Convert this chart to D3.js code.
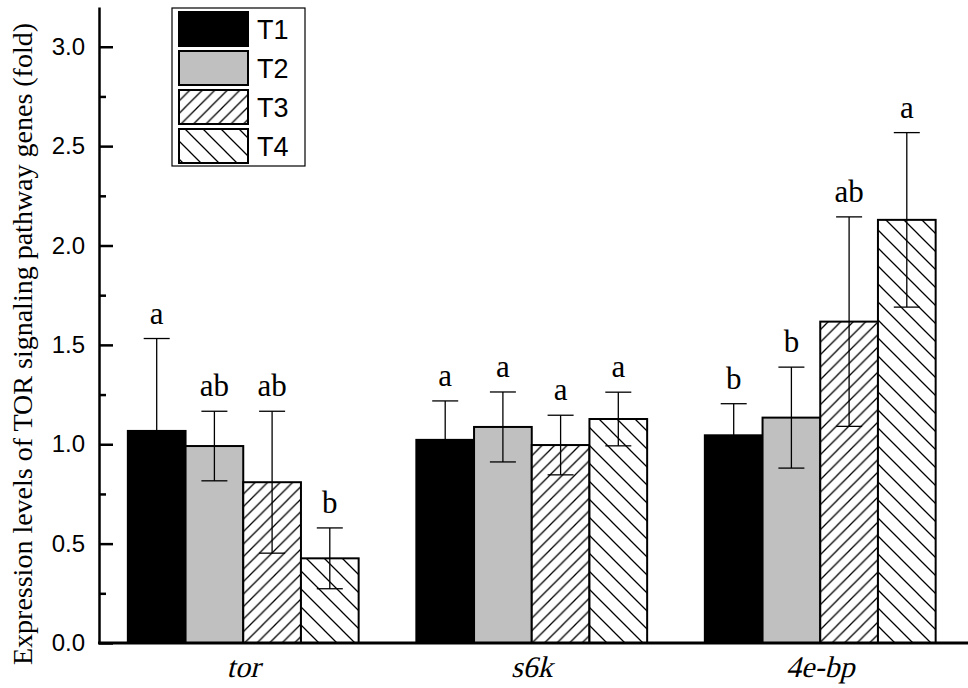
<!DOCTYPE html>
<html>
<head>
<meta charset="utf-8">
<script src="https://cdn.jsdelivr.net/npm/d3@7"></script>
<style>
  body { margin: 0; background: #fff; }
  svg { display: block; }
</style>
</head>
<body>
<svg id="chart" width="968" height="688"></svg>
<script>
// data
var genes = ["tor", "s6k", "4e-bp"];
var series = ["T1", "T2", "T3", "T4"];

var meanT1 = [1.067, 1.022, 1.045];
var meanT2 = [0.991, 1.087, 1.134];
var meanT3 = [0.809, 0.996, 1.617];
var meanT4 = [0.426, 1.127, 2.129];

var sdT1 = [0.465, 0.196, 0.159];
var sdT2 = [0.175, 0.176, 0.254];
var sdT3 = [0.357, 0.150, 0.527];
var sdT4 = [0.153, 0.135, 0.439];

var letT1 = ["a", "a", "b"];
var letT2 = ["ab", "a", "b"];
var letT3 = ["ab", "a", "ab"];
var letT4 = ["b", "a", "a"];

var yTicks = [0, 0.5, 1.0, 1.5, 2.0, 2.5, 3.0];
var yMinor = [0.25, 0.75, 1.25, 1.75, 2.25, 2.75];

var means = [meanT1, meanT2, meanT3, meanT4];
var sds = [sdT1, sdT2, sdT3, sdT4];
var lets = [letT1, letT2, letT3, letT4];

// flatten into rows for the bars
var rows = [];
genes.forEach(function (g, gi) {
  series.forEach(function (s, si) {
    rows.push({gene: g, series: s, mean: means[si][gi], sd: sds[si][gi], label: lets[si][gi]});
  });
});

var svg = d3.select("#chart");
var W = 968;
var serif = "'Times New Roman', 'Liberation Serif', serif";
var sans = "'Liberation Sans', Arial, sans-serif";

// scales
var x0 = d3.scaleBand().domain(genes).range([99, 964.5]).paddingInner(0.2).paddingOuter(0.1);
var x1 = d3.scaleBand().domain(series).range([0, x0.bandwidth()]);
var y = d3.scaleLinear().domain([0, 3.2]).range([643, 7]);

// hatch patterns
var defs = svg.append("defs");
function hatch(id, s, forward) {
  var p = defs.append("pattern")
    .attr("id", id)
    .attr("patternUnits", "userSpaceOnUse")
    .attr("width", s)
    .attr("height", s);
  p.append("rect").attr("width", s).attr("height", s).attr("fill", "#fff");
  var d = forward
    ? "M0," + s + " L" + s + ",0 M" + (-s / 4) + "," + (s / 4) + " L" + (s / 4) + "," + (-s / 4) +
      " M" + (3 * s / 4) + "," + (5 * s / 4) + " L" + (5 * s / 4) + "," + (3 * s / 4)
    : "M0,0 L" + s + "," + s + " M" + (-s / 4) + "," + (3 * s / 4) + " L" + (s / 4) + "," + (5 * s / 4) +
      " M" + (3 * s / 4) + "," + (-s / 4) + " L" + (5 * s / 4) + "," + (s / 4);
  p.append("path").attr("d", d).attr("stroke", "#000").attr("stroke-width", 1.3);
}
hatch("hatchF", 12.5, true);
hatch("hatchB", 18, false);

var fills = {T1: "#000", T2: "#c0c0c0", T3: "url(#hatchF)", T4: "url(#hatchB)"};

// bars
svg.append("g")
  .selectAll("rect")
  .data(rows)
  .enter()
  .append("rect")
  .attr("x", function (d) { return x0(d.gene) + x1(d.series); })
  .attr("y", function (d) { return y(d.mean); })
  .attr("width", x1.bandwidth())
  .attr("height", function (d) { return y(0) - y(d.mean); })
  .attr("fill", function (d) { return fills[d.series]; })
  .attr("stroke", "#000")
  .attr("stroke-width", 2);

// error bars
var eb = svg.append("g").attr("stroke", "#000").attr("stroke-width", 1.3);
var cap = 13;
rows.forEach(function (d) {
  var cx = x0(d.gene) + x1(d.series) + x1.bandwidth() / 2;
  var top = y(d.mean + d.sd), bot = y(d.mean - d.sd);
  eb.append("line").attr("x1", cx).attr("x2", cx).attr("y1", top).attr("y2", bot);
  eb.append("line").attr("x1", cx - cap).attr("x2", cx + cap).attr("y1", top).attr("y2", top);
  eb.append("line").attr("x1", cx - cap).attr("x2", cx + cap).attr("y1", bot).attr("y2", bot);
});

// significance letters
svg.append("g")
  .selectAll("text")
  .data(rows)
  .enter()
  .append("text")
  .attr("x", function (d) { return x0(d.gene) + x1(d.series) + x1.bandwidth() / 2; })
  .attr("y", function (d) { return y(d.mean + d.sd) - 15; })
  .attr("text-anchor", "middle")
  .style("font-family", serif)
  .style("font-size", "31px")
  .text(function (d) { return d.label; });

// y axis, ticks pointing inward
var yAxis = svg.append("g")
  .attr("transform", "translate(99,0)")
  .call(d3.axisLeft(y).tickValues(yTicks).tickSize(-14).tickSizeOuter(0).tickPadding(14)
    .tickFormat(d3.format(".1f")));
yAxis.select(".domain").attr("stroke-width", 2.5);
yAxis.selectAll(".tick line").attr("stroke-width", 2.5);
yAxis.selectAll("text")
  .style("font-family", sans)
  .style("font-size", "24px")
  .attr("fill", "#000");

var yMin = svg.append("g")
  .attr("transform", "translate(99,0)")
  .call(d3.axisLeft(y).tickValues(yMinor).tickSize(-7).tickSizeOuter(0).tickFormat(""));
yMin.select(".domain").remove();
yMin.selectAll(".tick line").attr("stroke-width", 2.5);

// x axis: labels only, line drawn to the right edge
// no serif italic face here, so the roman face is slanted by hand
var xAxis = svg.append("g")
  .attr("transform", "translate(0,643)")
  .call(d3.axisBottom(x0).tickSize(0));
xAxis.select(".domain").remove();
xAxis.selectAll("text")
  .attr("y", 0)
  .attr("dy", null)
  .attr("transform", "translate(0,34) skewX(-14)")
  .style("font-family", serif)
  .style("font-size", "30px")
  .attr("fill", "#000");
svg.append("line")
  .attr("x1", 98).attr("x2", W)
  .attr("y1", 643).attr("y2", 643)
  .attr("stroke", "#000").attr("stroke-width", 3);

// y axis title
svg.append("text")
  .attr("transform", "translate(32,344) rotate(-90)")
  .attr("text-anchor", "middle")
  .style("font-family", serif)
  .style("font-size", "28px")
  .text("Expression levels of TOR signaling pathway genes (fold)");

// legend
var lg = svg.append("g").attr("transform", "translate(172,8)");
lg.append("rect")
  .attr("width", 133).attr("height", 158)
  .attr("fill", "#fff").attr("stroke", "#000").attr("stroke-width", 1.2);
series.forEach(function (s, i) {
  lg.append("rect")
    .attr("x", 7).attr("y", 4 + i * 39)
    .attr("width", 69).attr("height", 34)
    .attr("fill", fills[s])
    .attr("stroke", "#000").attr("stroke-width", 2);
  lg.append("text")
    .attr("x", 85).attr("y", 31 + i * 39)
    .style("font-family", sans)
    .style("font-size", "27px")
    .text(s);
});
</script>
</body>
</html>
